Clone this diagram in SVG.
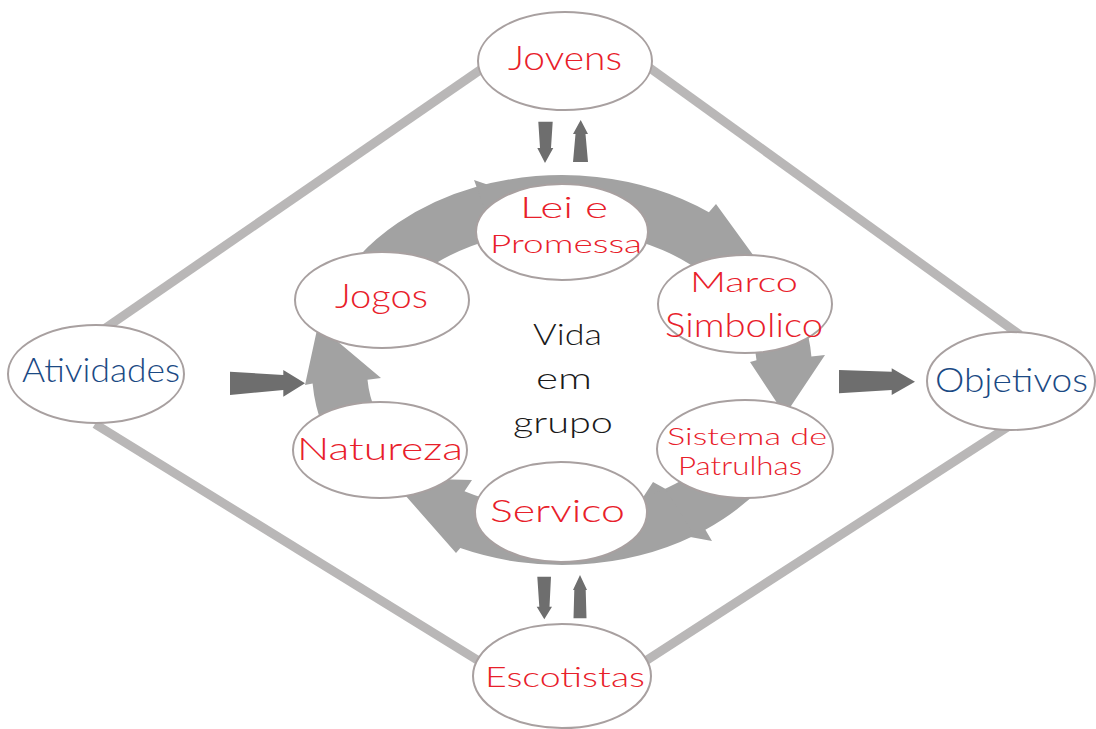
<svg xmlns="http://www.w3.org/2000/svg" width="1096" height="729" viewBox="0 0 1096 729">
<style>
.edge{stroke:#b9b7b7;stroke-width:9;fill:none;stroke-linecap:butt}
.ring{fill:#a2a2a2}
.dark{fill:#6e6e6e}
.node{fill:#ffffff;stroke:#a8a0a0;stroke-width:2}
.t{font-family:Lato,"Open Sans","Liberation Sans",sans-serif;font-weight:300;text-anchor:middle}
.red{fill:#e8202a}
.blue{fill:#1b4a84}
.blk{fill:#1a1a1a}
</style>
<rect width="1096" height="729" fill="#ffffff"/>
<g id="connectors">
<line class="edge" x1="495" y1="59.7" x2="97" y2="333.9"/>
<line class="edge" x1="640" y1="60.8" x2="1020" y2="335"/>
<line class="edge" x1="95" y1="424" x2="487" y2="666"/>
<line class="edge" x1="637" y1="666.5" x2="1013" y2="423.5"/>
<g id="cycle">
<path class="ring" d="M341.3,278.4 A250,195 0 0 1 476.5,186.8 L474,180 L548,205 L500,252 L495.3,238.4 A195,140 0 0 0 389.8,304.3 Z"/>
<path class="ring" d="M476.5,186.8 A250,195 0 0 1 708.9,212.2 L716,204 L780,292 L695,290 L706.9,276.3 A195,140 0 0 0 495.3,238.4 Z"/>
<path class="ring" d="M784.8,281.5 A250,195 0 0 1 811.4,356.4 L825,355 L785,415 L750,362 L756.5,360.2 A195,140 0 0 0 735.7,306.4 Z"/>
<path class="ring" d="M776.3,470.4 A250,195 0 0 1 705.4,529.7 L712,541 L625,525 L653,482 L665.3,488.7 A195,140 0 0 0 729.2,442.1 Z"/>
<path class="ring" d="M694.5,535.4 A250,195 0 0 1 460.3,548.1 L456,553 L390,478 L472,480 L464.5,491.2 A195,140 0 0 0 665.3,488.7 Z"/>
<path class="ring" d="M347.7,470.4 A250,195 0 0 1 312.6,383.6 L305,385 L318,325 L381,378 L367.5,379.8 A195,140 0 0 0 394.8,442.1 Z"/>
</g>
<path class="dark" d="M538.3,121.7 L552.7,121.7 L551,148 L553.3,148 L545,163 L537.3,148 L540,148 Z"/>
<path class="dark" d="M580.7,120 L588,134 L585.5,134 L588,162 L573,162 L575.5,134 L573,134 Z"/>
<path class="dark" d="M537.3,576.7 L551,576.7 L549.5,606.7 L552,606.7 L544.3,619.3 L536.7,606.7 L539.3,606.7 Z"/>
<path class="dark" d="M580,575 L587,590 L585.7,590 L586.5,618.3 L573.5,618.3 L574.3,590 L573,590 Z"/>
<path class="dark" d="M230,371.7 L283.3,375 L283.3,370 L305,383.3 L283.3,396.7 L283.3,390 L230,395 Z"/>
<path class="dark" d="M839,370 L891.7,371.7 L891.7,368.3 L915,381.7 L891.7,395 L891.7,390 L839,393.3 Z"/>
</g>
<g id="jovens"><ellipse class="node" cx="565" cy="61" rx="87" ry="49"/><text class="t red" x="565" y="70" font-size="33" textLength="114" lengthAdjust="spacingAndGlyphs">Jovens</text></g>
<g id="lei"><ellipse class="node" cx="562" cy="232" rx="86" ry="48"/><text class="t red" x="564" y="218" font-size="29" textLength="88" lengthAdjust="spacingAndGlyphs">Lei e</text><text class="t red" x="566" y="253" font-size="26" textLength="152" lengthAdjust="spacingAndGlyphs">Promessa</text></g>
<g id="jogos"><ellipse class="node" cx="382" cy="300" rx="87" ry="48"/><text class="t red" x="381.5" y="308" font-size="33" textLength="93" lengthAdjust="spacingAndGlyphs">Jogos</text></g>
<g id="marco"><ellipse class="node" cx="745" cy="304" rx="87" ry="49"/><text class="t red" x="744" y="292" font-size="28" textLength="108" lengthAdjust="spacingAndGlyphs">Marco</text><text class="t red" x="744" y="337" font-size="33" textLength="158" lengthAdjust="spacingAndGlyphs">Simbolico</text></g>
<g id="sistema"><ellipse class="node" cx="745" cy="449" rx="88" ry="49"/><text class="t red" x="747" y="445" font-size="24" textLength="160" lengthAdjust="spacingAndGlyphs">Sistema de</text><text class="t red" x="740" y="475" font-size="25" textLength="124" lengthAdjust="spacingAndGlyphs">Patrulhas</text></g>
<g id="servico"><ellipse class="node" cx="561" cy="512" rx="86" ry="50"/><text class="t red" x="557.5" y="522" font-size="31" textLength="135" lengthAdjust="spacingAndGlyphs">Servico</text></g>
<g id="natureza"><ellipse class="node" cx="380" cy="450" rx="87" ry="48"/><text class="t red" x="380" y="460" font-size="31" textLength="166" lengthAdjust="spacingAndGlyphs">Natureza</text></g>
<g id="atividades"><ellipse class="node" cx="96" cy="374" rx="88" ry="49"/><text class="t blue" x="101" y="382" font-size="34" textLength="158" lengthAdjust="spacingAndGlyphs">Atividades</text></g>
<g id="objetivos"><ellipse class="node" cx="1011" cy="381" rx="84" ry="49"/><text class="t blue" x="1011.5" y="392" font-size="33" textLength="153" lengthAdjust="spacingAndGlyphs">Objetivos</text></g>
<g id="escotistas"><ellipse class="node" cx="562" cy="676" rx="89" ry="52"/><text class="t red" x="565" y="687" font-size="27" textLength="160" lengthAdjust="spacingAndGlyphs">Escotistas</text></g>
<g id="vida-em-grupo"><text class="t blk" x="567.5" y="345" font-size="30" textLength="69" lengthAdjust="spacingAndGlyphs">Vida</text><text class="t blk" x="564" y="389" font-size="30" textLength="56" lengthAdjust="spacingAndGlyphs">em</text><text class="t blk" x="563" y="433" font-size="30" textLength="100" lengthAdjust="spacingAndGlyphs">grupo</text></g>
</svg>
